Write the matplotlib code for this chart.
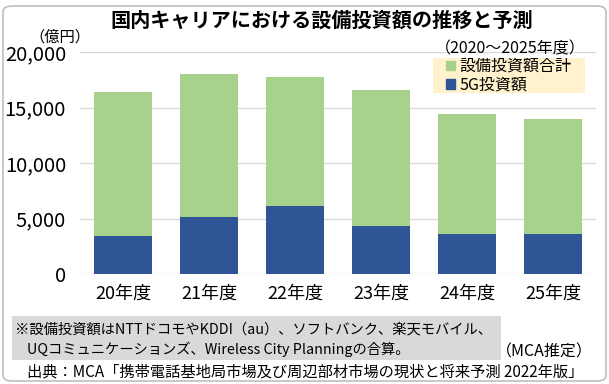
import matplotlib.pyplot as plt
from matplotlib.patches import Rectangle, FancyBboxPatch, Patch

plt.rcParams['font.family'] = ['Noto Sans CJK JP', 'DejaVu Sans']

# データ（億円）
years = ['20年度', '21年度', '22年度', '23年度', '24年度', '25年度']
total = [16400, 18000, 17750, 16580, 14420, 13970]
invest_5g = [3420, 5140, 6130, 4330, 3600, 3600]

W, H = 609, 384
fig = plt.figure(figsize=(W / 100, H / 100), dpi=100)

def fx(x):
    return x / W

def fy(y):
    return 1 - y / H

# 外枠
fig.patches.append(FancyBboxPatch((fx(3), fy(381)), fx(603), 375 / H,
                                  boxstyle='round,pad=0,rounding_size=0.015',
                                  transform=fig.transFigure, facecolor='none',
                                  edgecolor='#BFBFBF', linewidth=1.2, zorder=0))

ax = fig.add_axes([fx(80), fy(274), fx(516), (274 - 52) / H])
x = range(len(years))
ax.bar(x, total, width=0.67, color='#A9D18E', zorder=2)
ax.bar(x, invest_5g, width=0.67, color='#2F5597', zorder=3)

ax.set_xlim(-0.5, len(years) - 0.5)
ax.set_ylim(0, 20000)
ax.set_yticks([0, 5000, 10000, 15000, 20000])
ax.set_yticklabels(['0', '5,000', '10,000', '15,000', '20,000'], fontsize=14.5)
ax.set_xticks(list(x))
ax.set_xticklabels(years, fontsize=13)
ax.tick_params(axis='y', length=0, pad=10)
ax.tick_params(axis='x', length=0, pad=8)
ax.grid(axis='y', color='#D9D9D9', linewidth=1, zorder=0)
for s in ax.spines.values():
    s.set_visible(False)
ax.patch.set_alpha(0)

# タイトル
fig.text(fx(322), fy(20), '国内キャリアにおける設備投資額の推移と予測',
         ha='center', va='center', fontsize=14.5, fontweight='bold')
fig.text(fx(586), fy(49), '（2020～2025年度）', ha='right', va='center', fontsize=11.5)
fig.text(fx(60), fy(37), '（億円）', ha='center', va='center', fontsize=11)

# 凡例
fig.patches.append(Rectangle((fx(433), fy(93)), fx(152), 35 / H,
                             transform=fig.transFigure, facecolor='#FFF2CC',
                             edgecolor='none', zorder=1))
handles = [Patch(color='#A9D18E'), Patch(color='#2F5597')]
leg = fig.legend(handles, ['設備投資額合計', '5G投資額'], loc='upper left',
                 bbox_to_anchor=(fx(446), fy(58)), frameon=False, fontsize=11.5,
                 handlelength=0.55, handleheight=0.55, handletextpad=0.3,
                 labelspacing=0.1, borderpad=0, borderaxespad=0)

# 注記
fig.patches.append(Rectangle((fx(12), fy(360)), fx(489), 44 / H,
                             transform=fig.transFigure, facecolor='#D9D9D9',
                             edgecolor='none', zorder=1))
fig.text(fx(15), fy(329), '※設備投資額はNTTドコモやKDDI（au）、ソフトバンク、楽天モバイル、',
         ha='left', va='center', fontsize=10.3)
fig.text(fx(27), fy(349), 'UQコミュニケーションズ、Wireless City Planningの合算。',
         ha='left', va='center', fontsize=10.3)
fig.text(fx(593), fy(352), '（MCA推定）', ha='right', va='center', fontsize=11.5)
fig.text(fx(27), fy(372), '出典：MCA「携帯電話基地局市場及び周辺部材市場の現状と将来予測 2022年版」',
         ha='left', va='center', fontsize=11)

fig.savefig('out.png', dpi=100)
